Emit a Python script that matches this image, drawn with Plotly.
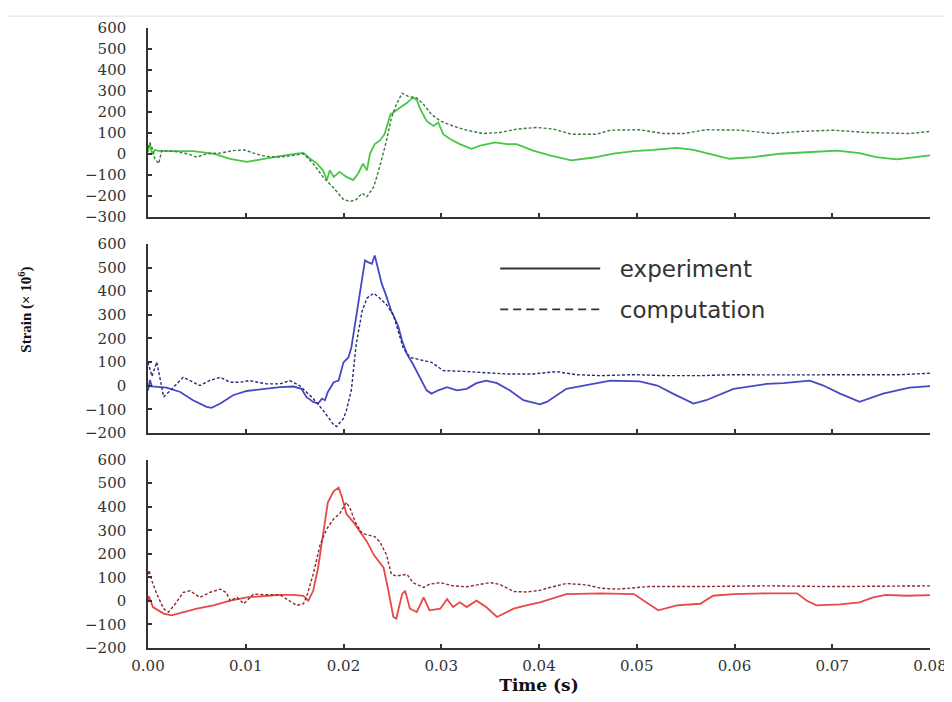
import plotly.graph_objects as go

# ---------------- data (time in s, strain x 1e6) ----------------
top_exp_t = [0.0000, 0.0002, 0.0004, 0.0007, 0.0012, 0.0033, 0.0046, 0.0067, 0.0084, 0.0101, 0.0118, 0.0135,
             0.0152, 0.0159, 0.0166, 0.0173, 0.0179, 0.0183, 0.0186, 0.0190, 0.0196, 0.0203, 0.0210, 0.0215,
             0.0220, 0.0224, 0.0227, 0.0232, 0.0237, 0.0242, 0.0248, 0.0253, 0.0258, 0.0265, 0.0271, 0.0275,
             0.0278, 0.0285, 0.0292, 0.0297, 0.0302, 0.0309, 0.0319, 0.0331, 0.0340, 0.0355, 0.0367, 0.0377,
             0.0394, 0.0411, 0.0433, 0.0456, 0.0476, 0.0497, 0.0517, 0.0541, 0.0558, 0.0575, 0.0595, 0.0619,
             0.0647, 0.0674, 0.0705, 0.0728, 0.0745, 0.0766, 0.0783, 0.0800]
top_exp_v = [10, 50, 0, 20, 14, 14, 14, 2, -22, -37, -22, -9,
             2, 6, -22, -45, -77, -123, -77, -108, -84, -108, -123, -92,
             -45, -77, 2, 48, 64, 95, 189, 205, 220, 244, 270, 258,
             220, 158, 134, 150, 95, 72, 48, 25, 41, 56, 48, 48,
             17, -6, -30, -16, 2, 14, 20, 30, 20, 2, -22, -14,
             2, 9, 17, 5, -14, -25, -14, -6]

top_comp_t = [0.0000, 0.0002, 0.0005, 0.0007, 0.0011, 0.0014, 0.0026, 0.0040, 0.0050, 0.0060, 0.0074, 0.0087,
              0.0099, 0.0108, 0.0121, 0.0135, 0.0149, 0.0159, 0.0169, 0.0179, 0.0190, 0.0200, 0.0207, 0.0213,
              0.0219, 0.0224, 0.0231, 0.0237, 0.0244, 0.0249, 0.0254, 0.0260, 0.0266, 0.0275, 0.0282, 0.0290,
              0.0299, 0.0312, 0.0326, 0.0343, 0.0360, 0.0377, 0.0398, 0.0415, 0.0433, 0.0459, 0.0473, 0.0503,
              0.0527, 0.0548, 0.0571, 0.0606, 0.0639, 0.0667, 0.0701, 0.0735, 0.0779, 0.0800]
top_comp_v = [30, 55, 20, -22, -45, 17, 14, 2, -14, 2, 5, 17,
              20, 5, -11, -14, -6, 2, -45, -108, -161, -216, -225, -216,
              -186, -202, -155, -61, 64, 173, 236, 290, 275, 267, 236, 189,
              158, 134, 114, 98, 103, 119, 127, 119, 95, 95, 114, 116,
              98, 98, 116, 114, 98, 108, 114, 103, 98, 108]

mid_exp_t = [0.0000, 0.0002, 0.0004, 0.0019, 0.0033, 0.0046, 0.0060, 0.0065, 0.0074, 0.0087, 0.0101, 0.0118,
             0.0135, 0.0149, 0.0157, 0.0162, 0.0169, 0.0174, 0.0178, 0.0181, 0.0184, 0.0190, 0.0195, 0.0200,
             0.0205, 0.0208, 0.0213, 0.0219, 0.0222, 0.0225, 0.0229, 0.0232, 0.0236, 0.0239, 0.0244, 0.0249,
             0.0253, 0.0256, 0.0260, 0.0265, 0.0271, 0.0278, 0.0285, 0.0290, 0.0297, 0.0306, 0.0316, 0.0326,
             0.0336, 0.0346, 0.0357, 0.0370, 0.0384, 0.0401, 0.0408, 0.0428, 0.0456, 0.0473, 0.0503, 0.0521,
             0.0537, 0.0558, 0.0571, 0.0599, 0.0633, 0.0650, 0.0677, 0.0691, 0.0708, 0.0728, 0.0752, 0.0779,
             0.0800]
mid_exp_v = [-20, 25, -3, -8, -26, -61, -89, -93, -75, -40, -22, -13,
             -6, -3, -13, -47, -68, -75, -54, -61, -26, 15, 22, 99,
             120, 161, 287, 440, 530, 523, 516, 551, 481, 433, 377, 314,
             280, 252, 189, 134, 92, 36, -19, -33, -19, -6, -19, -13,
             11, 22, 11, -19, -61, -78, -68, -13, 8, 22, 19, 1,
             -33, -75, -61, -13, 8, 11, 22, 1, -33, -68, -33, -8,
             -1]

mid_comp_t = [0.0000, 0.0004, 0.0009, 0.0016, 0.0023, 0.0029, 0.0036, 0.0043, 0.0053, 0.0063, 0.0074, 0.0084,
              0.0094, 0.0104, 0.0121, 0.0135, 0.0145, 0.0155, 0.0169, 0.0179, 0.0190, 0.0193, 0.0200, 0.0203,
              0.0208, 0.0213, 0.0219, 0.0224, 0.0231, 0.0237, 0.0244, 0.0251, 0.0256, 0.0261, 0.0268, 0.0275,
              0.0282, 0.0290, 0.0295, 0.0302, 0.0323, 0.0340, 0.0367, 0.0394, 0.0418, 0.0438, 0.0463, 0.0497,
              0.0531, 0.0565, 0.0599, 0.0633, 0.0667, 0.0701, 0.0735, 0.0769, 0.0800]
mid_comp_v = [100, 40, 100, -47, -19, 8, 36, 22, 1, 22, 36, 15,
              15, 22, 8, 8, 22, 1, -54, -103, -165, -172, -138, -103,
              -19, 175, 315, 371, 391, 371, 343, 301, 231, 161, 120, 113,
              106, 99, 85, 64, 61, 57, 50, 50, 60, 47, 43, 47,
              43, 43, 47, 46, 46, 47, 46, 47, 53]

bot_exp_t = [0.0000, 0.0001, 0.0005, 0.0016, 0.0024, 0.0036, 0.0050, 0.0067, 0.0084, 0.0101, 0.0118, 0.0135,
             0.0149, 0.0159, 0.0164, 0.0169, 0.0174, 0.0179, 0.0184, 0.0190, 0.0195, 0.0198, 0.0203, 0.0210,
             0.0217, 0.0224, 0.0231, 0.0236, 0.0241, 0.0246, 0.0251, 0.0254, 0.0260, 0.0263, 0.0268, 0.0275,
             0.0282, 0.0288, 0.0299, 0.0306, 0.0312, 0.0319, 0.0326, 0.0336, 0.0346, 0.0357, 0.0364, 0.0374,
             0.0387, 0.0401, 0.0428, 0.0463, 0.0497, 0.0507, 0.0522, 0.0541, 0.0565, 0.0578, 0.0599, 0.0633,
             0.0664, 0.0674, 0.0684, 0.0708, 0.0728, 0.0742, 0.0755, 0.0776, 0.0800]
bot_exp_v = [1, 20, -26, -54, -61, -47, -33, -19, 1, 15, 22, 26,
             26, 22, 1, 43, 141, 280, 419, 467, 481, 447, 370, 335,
             294, 252, 196, 168, 141, 43, -68, -75, 29, 43, -33, -47,
             15, -40, -33, 8, -26, -6, -26, 1, -26, -68, -54, -33,
             -19, -6, 29, 32, 29, 1, -40, -19, -12, 22, 29, 32,
             32, 1, -19, -15, -6, 15, 26, 22, 25]

bot_comp_t = [0.0000, 0.0001, 0.0004, 0.0009, 0.0016, 0.0021, 0.0028, 0.0036, 0.0043, 0.0053, 0.0063, 0.0074,
              0.0080, 0.0084, 0.0091, 0.0098, 0.0108, 0.0121, 0.0135, 0.0145, 0.0152, 0.0159, 0.0162, 0.0169,
              0.0176, 0.0183, 0.0190, 0.0196, 0.0203, 0.0207, 0.0212, 0.0219, 0.0225, 0.0232, 0.0237, 0.0244,
              0.0249, 0.0254, 0.0265, 0.0271, 0.0282, 0.0288, 0.0299, 0.0312, 0.0326, 0.0340, 0.0350, 0.0360,
              0.0374, 0.0388, 0.0401, 0.0411, 0.0428, 0.0449, 0.0463, 0.0480, 0.0513, 0.0565, 0.0633, 0.0701,
              0.0769, 0.0800]
bot_comp_v = [113, 130, 85, 29, -33, -47, -12, 36, 43, 15, 36, 50,
              36, 1, 15, -12, 29, 26, 26, 1, -19, -12, 15, 113,
              238, 307, 349, 370, 419, 391, 335, 287, 280, 273, 252, 196,
              113, 106, 113, 78, 57, 71, 78, 64, 60, 71, 78, 70,
              40, 38, 45, 57, 74, 68, 54, 50, 61, 61, 64, 61,
              61, 64]

x_ticks = [0.00, 0.01, 0.02, 0.03, 0.04, 0.05, 0.06, 0.07, 0.08]
top_range = [-300, 600]
mid_range = [-200, 600]
bot_range = [-200, 600]

series_names = ["experiment", "computation"]

# ---------------- figure ----------------
fig = go.Figure()

panels = [
    ("x", "y", top_exp_t, top_exp_v, top_comp_t, top_comp_v, "#46c846", "#3a7a3a"),
    ("x2", "y2", mid_exp_t, mid_exp_v, mid_comp_t, mid_comp_v, "#4848c4", "#2a2a7a"),
    ("x3", "y3", bot_exp_t, bot_exp_v, bot_comp_t, bot_comp_v, "#e84848", "#8a2a2a"),
]
for xa, ya, et, ev, ct, cv, ce, cc in panels:
    fig.add_trace(go.Scatter(x=et, y=ev, xaxis=xa, yaxis=ya, mode="lines",
                             line=dict(color=ce, width=1.8), showlegend=False, hoverinfo="skip"))
    fig.add_trace(go.Scatter(x=ct, y=cv, xaxis=xa, yaxis=ya, mode="lines",
                             line=dict(color=cc, width=1.4, dash="3px,2px"), showlegend=False, hoverinfo="skip"))

# legend entries
NB = "\u00a0\u00a0"
fig.add_trace(go.Scatter(x=[None], y=[None], xaxis="x2", yaxis="y2", mode="lines", name=NB + series_names[0],
                         line=dict(color="#333333", width=1.8), legend="legend"))
fig.add_trace(go.Scatter(x=[None], y=[None], xaxis="x2", yaxis="y2", mode="lines", name=NB + series_names[1],
                         line=dict(color="#333333", width=1.8, dash="8px,5px"), legend="legend2"))

tickfont = dict(family="DejaVu Serif", size=15, color="#333333")
axis_common = dict(showline=True, linecolor="#333333", linewidth=1.5, ticks="inside", ticklen=4,
                   tickwidth=1.5, tickcolor="#333333", showgrid=False, zeroline=False, tickfont=tickfont)

x_common = dict(axis_common, range=[0, 0.08], tickvals=x_ticks, domain=[0, 1])
y_common = dict(axis_common, dtick=100, ticklabelstandoff=17)

legend_font = dict(family="DejaVu Sans", size=23, color="#333333")

fig.update_layout(
    width=952, height=702,
    margin=dict(l=140, r=30, t=11, b=62),
    paper_bgcolor="white", plot_bgcolor="white",
    xaxis=dict(x_common, anchor="y", showticklabels=False),
    yaxis=dict(y_common, range=top_range, domain=[0.6948, 1.0], anchor="x"),
    xaxis2=dict(x_common, anchor="y2", showticklabels=False),
    yaxis2=dict(y_common, range=mid_range, domain=[0.3466, 0.6518], anchor="x2"),
    xaxis3=dict(x_common, anchor="y3", tickformat=".2f", ticklabelstandoff=3,
                title=dict(text="<b>Time (s)</b>", font=dict(family="DejaVu Serif", size=17, color="#111111"),
                           standoff=0)),
    yaxis3=dict(y_common, range=bot_range, domain=[0.0, 0.3037], anchor="x3"),
    legend=dict(x=0.444, y=0.612, xanchor="left", yanchor="middle", itemwidth=100,
                font=legend_font, bgcolor="rgba(0,0,0,0)"),
    legend2=dict(x=0.444, y=0.546, xanchor="left", yanchor="middle", itemwidth=100,
                 font=legend_font, bgcolor="rgba(0,0,0,0)"),
    annotations=[dict(text="<b>Strain (× 10<sup>6</sup>)</b>", xref="paper", yref="paper",
                      x=-0.157, y=0.546, xanchor="center", yanchor="middle", showarrow=False, textangle=-90,
                      font=dict(family="Liberation Serif", size=15, color="#111111"))],
    shapes=[dict(type="line", xref="paper", yref="paper", x0=-0.19, x1=1.03, y0=1.019, y1=1.019,
                 line=dict(color="#ebebeb", width=1.5))],
)

fig.write_html("out.html")
